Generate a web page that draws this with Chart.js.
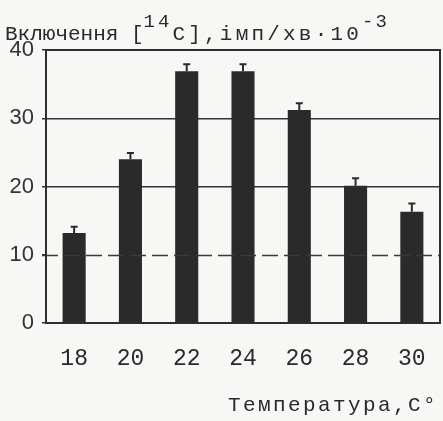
<!DOCTYPE html>
<html><head><meta charset="utf-8">
<script src="https://cdn.jsdelivr.net/npm/chart.js@4/dist/chart.umd.min.js"></script>
<style>html,body{margin:0;padding:0;background:#f7f7f5;}#w{width:443px;height:421px;}</style>
</head><body><div id="w"><canvas id="c"></canvas></div>
<script>
const temperatures = ['18', '20', '22', '24', '26', '28', '30'];
const incorporation = [13.2, 24.0, 36.9, 36.9, 31.2, 20.1, 16.3];
const errors = [0.9, 0.9, 1.0, 1.0, 1.0, 1.1, 1.2];
const yTicks = [0, 10, 20, 30, 40];
const dashedGridValues = [10];
const titleParts = [
  {text: 'Включення [', sup: false, spacing: 0},
  {text: '14', sup: true, spacing: 3},
  {text: 'C],імп/хв·10', sup: false, spacing: 3.2},
  {text: '-3', sup: true, spacing: 2}
];
const xAxisTitle = 'Температура,C°';

const INK = '#2a2a2a';
const MONO = '"Liberation Mono", "DejaVu Sans Mono", monospace';

function drawSpaced(ctx, text, x, y, spacing) {
  let cx = x;
  for (const ch of text) {
    ctx.fillText(ch, cx, y);
    cx += ctx.measureText(ch).width + spacing;
  }
  return cx - x;
}

const extras = {
  id: 'extras',
  afterDatasetsDraw(chart) {
    const ctx = chart.ctx, a = chart.chartArea;
    const y = chart.scales.y;
    ctx.save();
    // dashed gridlines
    ctx.strokeStyle = '#3a3a3a';
    ctx.lineWidth = 1.5;
    ctx.setLineDash([16, 6]);
    dashedGridValues.forEach(v => {
      const py = Math.round(y.getPixelForValue(v)) + 0.5;
      ctx.beginPath(); ctx.moveTo(a.left - 4, py); ctx.lineTo(a.right, py); ctx.stroke();
    });
    ctx.setLineDash([]);
    // error bars
    const meta = chart.getDatasetMeta(0);
    ctx.strokeStyle = INK;
    ctx.lineWidth = 2;
    meta.data.forEach((bar, i) => {
      const top = y.getPixelForValue(incorporation[i] + errors[i]);
      const base = y.getPixelForValue(incorporation[i]);
      ctx.beginPath();
      ctx.moveTo(bar.x, base); ctx.lineTo(bar.x, top);
      ctx.moveTo(bar.x - 3.5, top); ctx.lineTo(bar.x + 3.5, top);
      ctx.stroke();
    });
    // frame
    ctx.strokeStyle = '#2e2e2e';
    ctx.lineWidth = 2;
    ctx.strokeRect(a.left, a.top, a.right - a.left, a.bottom - a.top);
    // title with superscripts
    ctx.fillStyle = INK;
    ctx.textBaseline = 'alphabetic';
    let cx = 5;
    titleParts.forEach(p => {
      ctx.font = (p.sup ? '19px ' : '21px ') + MONO;
      const yy = p.sup ? 27 : 40;
      cx += drawSpaced(ctx, p.text, cx, yy, p.spacing);
    });
    // x axis title
    ctx.font = '21px ' + MONO;
    drawSpaced(ctx, xAxisTitle, 228, 411, 2.4);
    ctx.restore();
  }
};

new Chart(document.getElementById('c'), {
  type: 'bar',
  data: {
    labels: temperatures,
    datasets: [{
      data: incorporation,
      backgroundColor: INK,
      borderWidth: 0,
      categoryPercentage: 1,
      barPercentage: 0.41
    }]
  },
  options: {
    responsive: true,
    maintainAspectRatio: false,
    animation: false,
    layout: {padding: {top: 50, right: 3, bottom: 0, left: 0}},
    plugins: {legend: {display: false}, tooltip: {enabled: false}, title: {display: false}},
    scales: {
      x: {
        grid: {display: false},
        border: {display: false},
        ticks: {color: INK, font: {family: MONO, size: 23}, padding: 14, maxRotation: 0, autoSkip: false},
        afterFit(s) { s.height = 98; }
      },
      y: {
        min: 0, max: 40,
        afterBuildTicks(s) { s.ticks = yTicks.map(v => ({value: v})); },
        afterFit(s) { s.width = 46; },
        grid: {
          color: c => dashedGridValues.includes(c.tick && c.tick.value) ? 'rgba(0,0,0,0)' : '#333',
          lineWidth: 1.5,
          tickLength: 4,
          tickColor: '#333'
        },
        border: {display: true, color: '#2e2e2e', width: 2},
        ticks: {color: '#333', font: {family: '"Liberation Sans", Arial, sans-serif', size: 22}, padding: 8}
      }
    }
  },
  plugins: [extras]
});
</script></body></html>
